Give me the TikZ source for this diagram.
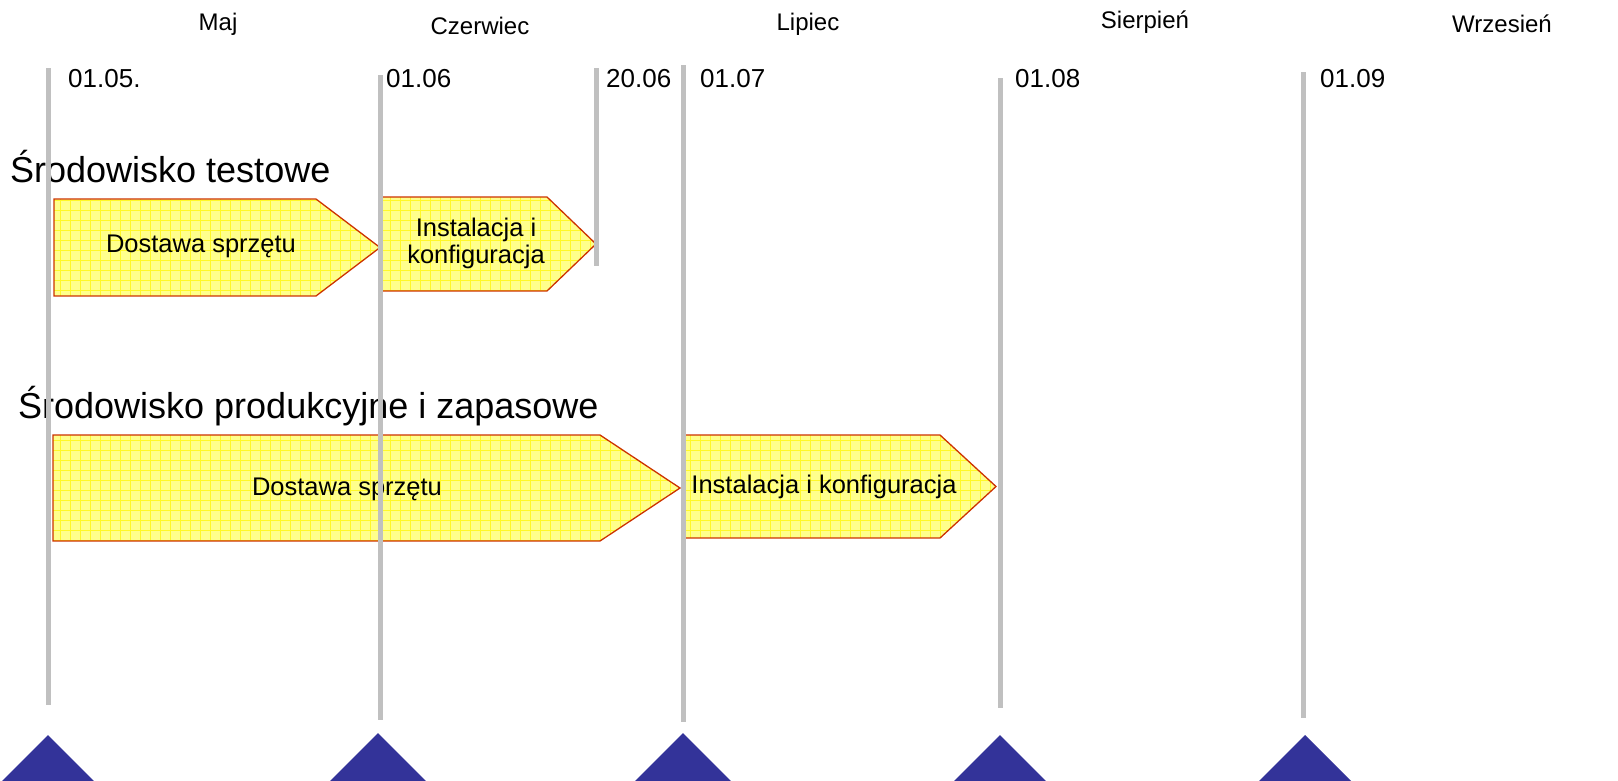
\documentclass[tikz,border=0pt]{standalone}
\usepackage{fontspec}
\setmainfont{Liberation Sans}
\definecolor{tline}{RGB}{192,192,192}
\definecolor{tri}{RGB}{51,51,153}
\definecolor{boxfill}{RGB}{255,255,140}
\definecolor{gridy}{RGB}{255,248,40}
\definecolor{boxedge}{RGB}{204,51,0}
\newcommand\phasebox[5]{% left, top, bottom, pointstart, tip
  \pgfmathsetmacro\midy{(#2+#3)/2}
  \begin{scope}
    \path[clip] (#1,#2) -- (#4,#2) -- (#5,\midy) -- (#4,#3) -- (#1,#3) -- cycle;
    \fill[boxfill] (#1,#2) rectangle (#5,#3);
    \draw[gridy, line width=0.6pt, step=10pt] (#1,#2) grid (#5,#3);
  \end{scope}
  \draw[boxedge, line width=1.3pt, line join=miter] (#1,#2) -- (#4,#2) -- (#5,\midy) -- (#4,#3) -- (#1,#3) -- cycle;
}
\begin{document}
\begin{tikzpicture}[x=1pt,y=-1pt,
  month/.style={font=\fontsize{24}{28}\selectfont, inner sep=0pt},
  datelbl/.style={font=\fontsize{26}{30}\selectfont, inner sep=0pt, anchor=base west},
  heading/.style={font=\fontsize{36}{40}\selectfont, inner sep=0pt, anchor=base west},
  boxlbl/.style={font=\fontsize{25.5}{27}\selectfont, inner sep=0pt, align=center},
  tl/.style={tline, line width=5pt},
  marker/.style={fill=tri}]
\useasboundingbox (0,0) rectangle (1618,780);
\clip (0,0) rectangle (1618,780);

% month labels
\node[month] (m1) at (218,24) {Maj};
\node[month] (m2) at (480,26) {Czerwiec};
\node[month] (m3) at (808,24) {Lipiec};
\node[month] (m4) at (1145,22) {Sierpień};
\node[month] (m5) at (1502,24) {Wrzesień};

% date labels
\node[datelbl] (d1) at (68,87) {01.05.};
\node[datelbl] (d2) at (386,87) {01.06};
\node[datelbl] (d3) at (606,87) {20.06};
\node[datelbl] (d4) at (700,87) {01.07};
\node[datelbl] (d5) at (1015,87) {01.08};
\node[datelbl] (d6) at (1320,87) {01.09};

% headings
\node[heading] (h1) at (10,182) {Środowisko testowe};
\node[heading] (h2) at (18,418) {Środowisko produkcyjne i zapasowe};

% phase arrows
\phasebox{54}{199}{296}{316}{380}
\phasebox{380}{197}{291}{547}{596}
\phasebox{53}{435}{541}{600}{680}
\phasebox{685}{435}{538}{940}{996}

\node[boxlbl] (t1) at (201,246) {Dostawa sprzętu};
\node[boxlbl] (t2) at (476,243) {Instalacja i\\konfiguracja};
\node[boxlbl] (p1) at (347,489) {Dostawa sprzętu};
\node[boxlbl] (p2) at (824,487) {Instalacja i konfiguracja};

% timeline lines
\coordinate (l1a) at (48,68);   \coordinate (l1b) at (48,705);
\coordinate (l2a) at (380,75);  \coordinate (l2b) at (380,720);
\coordinate (l3a) at (596,68);  \coordinate (l3b) at (596,266);
\coordinate (l4a) at (683,65);  \coordinate (l4b) at (683,722);
\coordinate (l5a) at (1000,78); \coordinate (l5b) at (1000,708);
\coordinate (l6a) at (1303,72); \coordinate (l6b) at (1303,718);
\foreach \i in {1,...,6} \draw[tl] (l\i a) -- (l\i b);

% milestone markers
\foreach \x/\y in {48/735, 378/733, 683/733, 1000/735, 1305/735}
  \fill[marker] (\x,\y) -- (\x+60,\y+60) -- (\x-60,\y+60) -- cycle;
\end{tikzpicture}
\end{document}
